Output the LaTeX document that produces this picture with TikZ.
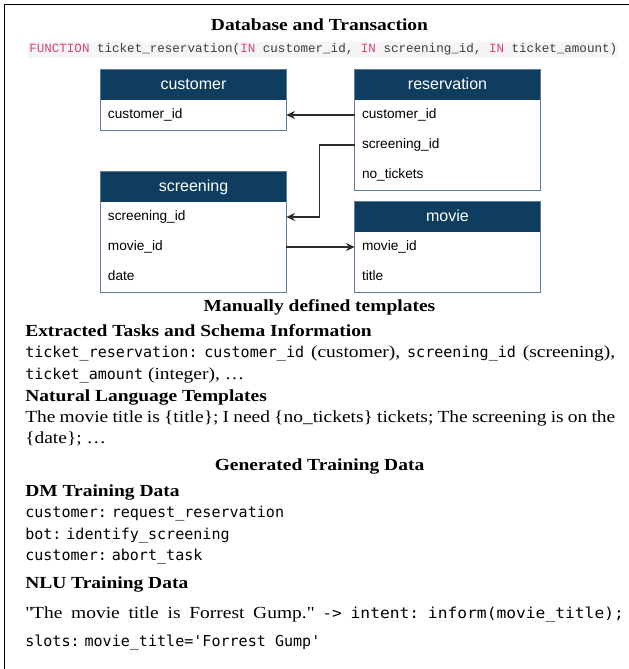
\documentclass[tikz,border=0pt]{standalone}
\usepackage{fontspec}
\setmainfont{Liberation Serif}[FakeStretch=1.15]
\newfontfamily\monof{DejaVu Sans Mono}
\newfontfamily\monow{DejaVu Sans Mono}[FakeStretch=1.08]
\newfontfamily\codef{Liberation Mono}
\newfontfamily\tabf{Liberation Sans}
\usetikzlibrary{arrows.meta}
\definecolor{hdrblue}{RGB}{14,61,96}
\definecolor{boxline}{RGB}{95,125,155}
\definecolor{kw}{RGB}{214,70,110}
\definecolor{codegray}{RGB}{60,60,60}
\definecolor{codebg}{RGB}{245,245,245}
\definecolor{conncol}{RGB}{45,45,45}
\newcommand{\serifsize}{\fontsize{12.7}{15}\selectfont}
\newcommand{\mtx}[1]{{\monof\fontsize{11.3}{13}\selectfont #1}}
\newcommand{\mtw}[1]{{\monow\fontsize{11.3}{13}\selectfont #1}}
\frenchspacing
\begin{document}
\begin{tikzpicture}[x=0.75pt,y=-0.75pt,
  hdr/.style={fill=hdrblue, text=white, minimum width=138.75pt, minimum height=22.5pt,
    inner sep=0pt, text height=8.6pt, text depth=2.4pt, font=\tabf\fontsize{12}{14}\selectfont},
  rowc/.style={minimum width=138.75pt, minimum height=22.5pt, text width=128.25pt,
    inner xsep=5.25pt, inner ysep=0pt, align=left, text height=7.4pt, text depth=2.2pt,
    font=\tabf\fontsize{10.25}{12}\selectfont},
  tbl/.style={draw=boxline, line width=1pt},
  conn/.style={draw=conncol, line width=1pt, -{Stealth[length=6.5pt,width=6pt,inset=2pt]}},
  head/.style={font=\bfseries\serifsize, inner sep=0pt, anchor=base},
  headl/.style={head, anchor=base west},
  bodyl/.style={font=\serifsize\frenchspacing, inner sep=0pt, anchor=base west}]
\useasboundingbox (0,0) rectangle (629,669);
\draw[line width=1.1pt] (4.5,669) -- (4.5,4.5) -- (629,4.5);

\node[head] (title) at (319.5,30.7) {Database and Transaction};
\node[anchor=base west, fill=codebg, inner xsep=0.75pt, inner ysep=0pt, text height=8.3pt, text depth=3.7pt,
  font=\codef\fontsize{9.42}{11}\selectfont, text=codegray] (code) at (28,52.7)
  {\textcolor{kw}{FUNCTION} ticket\_reservation(\textcolor{kw}{IN} customer\_id, \textcolor{kw}{IN} screening\_id, \textcolor{kw}{IN} ticket\_amount)};

% customer
\node[hdr] (cust-h) at (193.5,85) {customer};
\node[rowc] (cust-id) at (193.5,115) {customer\_id};
\draw[tbl] (cust-h.north west) rectangle (cust-id.south east);
% reservation
\node[hdr] (res-h) at (447.5,85) {reservation};
\node[rowc] (res-cid) at (447.5,115) {customer\_id};
\node[rowc] (res-sid) at (447.5,145) {screening\_id};
\node[rowc] (res-nt) at (447.5,175) {no\_tickets};
\draw[tbl] (res-h.north west) rectangle (res-nt.south east);
% screening
\node[hdr] (scr-h) at (193.5,187) {screening};
\node[rowc] (scr-sid) at (193.5,217) {screening\_id};
\node[rowc] (scr-mid) at (193.5,247) {movie\_id};
\node[rowc] (scr-date) at (193.5,277) {date};
\draw[tbl] (scr-h.north west) rectangle (scr-date.south east);
% movie
\node[hdr] (mov-h) at (447.5,217) {movie};
\node[rowc] (mov-mid) at (447.5,247) {movie\_id};
\node[rowc] (mov-title) at (447.5,277) {title};
\draw[tbl] (mov-h.north west) rectangle (mov-title.south east);

\draw[conn] (res-cid.west) -- (cust-id.east);
\draw[conn] (res-sid.west) -- ++(-35,0) |- (scr-sid.east);
\draw[conn] (scr-mid.east) -- (mov-mid.west);

\node[head] (manual) at (319.5,311) {Manually defined templates};
\node[headl] (ext) at (25,336.7) {Extracted Tasks and Schema Information};
\node[bodyl] (l1) at (25,357.7) {\makebox[442.5pt][s]{\mtx{ticket\_reservation:} \mtx{customer\_id} (customer), \mtx{screening\_id} (screening),}};
\node[bodyl] (l2) at (25,379.7) {\mtx{ticket\_amount} (integer), \ldots};
\node[headl] (nlt) at (25,401.7) {Natural Language Templates};
\node[bodyl] (l3) at (25,422.7) {\makebox[442.5pt][s]{The movie title is \{title\}; I need \{no\_tickets\} tickets; The screening is on the}};
\node[bodyl] (l4) at (25,443.7) {\{date\}; \ldots};

\node[head] (gen) at (319.5,470) {Generated Training Data};
\node[headl] (dm) at (25,496.7) {DM Training Data};
\node[bodyl] (d1) at (25,517.5) {\mtx{customer:} \mtx{request\_reservation}};
\node[bodyl] (d2) at (25,539) {\mtx{bot:} \mtx{identify\_screening}};
\node[bodyl] (d3) at (25,560.5) {\mtx{customer:} \mtx{abort\_task}};
\node[headl] (nlu) at (25,588) {NLU Training Data};
\node[bodyl] (n1) at (25,618.5) {\makebox[449pt][s]{\textquotedbl The movie title is Forrest Gump.\textquotedbl{} \mtw{->} \mtw{intent:} \mtw{inform(movie\_title);}}};
\node[bodyl] (n2) at (25,646.5) {\mtx{slots:} \mtx{movie\_title='Forrest Gump'}};
\end{tikzpicture}
\end{document}
